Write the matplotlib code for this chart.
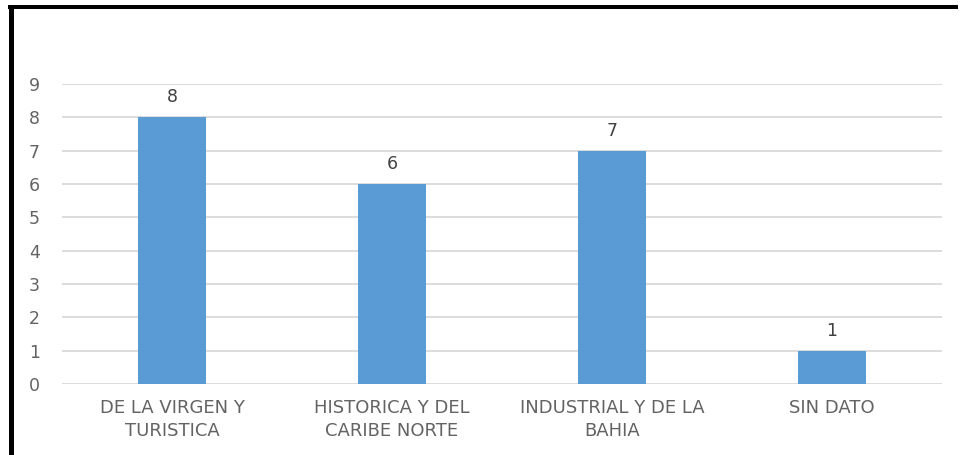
import matplotlib
matplotlib.use('Agg')
import matplotlib.pyplot as plt
from matplotlib.lines import Line2D

categories = ['DE LA VIRGEN Y\nTURISTICA', 'HISTORICA Y DEL\nCARIBE NORTE',
              'INDUSTRIAL Y DE LA\nBAHIA', 'SIN DATO']
values = [8, 6, 7, 1]
yticks = list(range(0, 10))

plt.rcParams['font.family'] = ['DejaVu Sans']

W, H = 961, 455
fig = plt.figure(figsize=(W / 100, H / 100), dpi=100)
ax = fig.add_axes([62 / W, (H - 384) / H, 880 / W, 300 / H])

x = range(len(values))
bars = ax.bar(x, values, width=0.31, color='#5B9BD5', zorder=3)
ax.set_xlim(-0.5, len(values) - 0.5)
ax.set_ylim(0, 9)
ax.set_yticks(yticks)
ax.set_xticks(list(x))
ax.set_xticklabels(categories, color='#636363', fontsize=13, linespacing=1.35)
ax.tick_params(axis='y', colors='#636363', labelsize=12.5, length=0, pad=16)
ax.tick_params(axis='x', length=0, pad=11)
ax.grid(axis='y', color='#D9D9D9', linewidth=1.3, zorder=0)
for s in ax.spines.values():
    s.set_visible(False)

# data labels
for b, v in zip(bars, values):
    ax.annotate(str(v), (b.get_x() + b.get_width() / 2, v), xytext=(0, 8),
                textcoords='offset points', ha='center', va='bottom',
                color='#404040', fontsize=12.5)

# cropped frame (top and left only)
fig.add_artist(Line2D([8 / W, 958 / W], [1 - 7 / H, 1 - 7 / H], color='black',
                      linewidth=2.9, solid_capstyle='butt', transform=fig.transFigure))
fig.add_artist(Line2D([10.5 / W, 10.5 / W], [0, 1 - 5 / H], color='black',
                      linewidth=3.6, solid_capstyle='butt', transform=fig.transFigure))

fig.savefig('out.png', dpi=100)
